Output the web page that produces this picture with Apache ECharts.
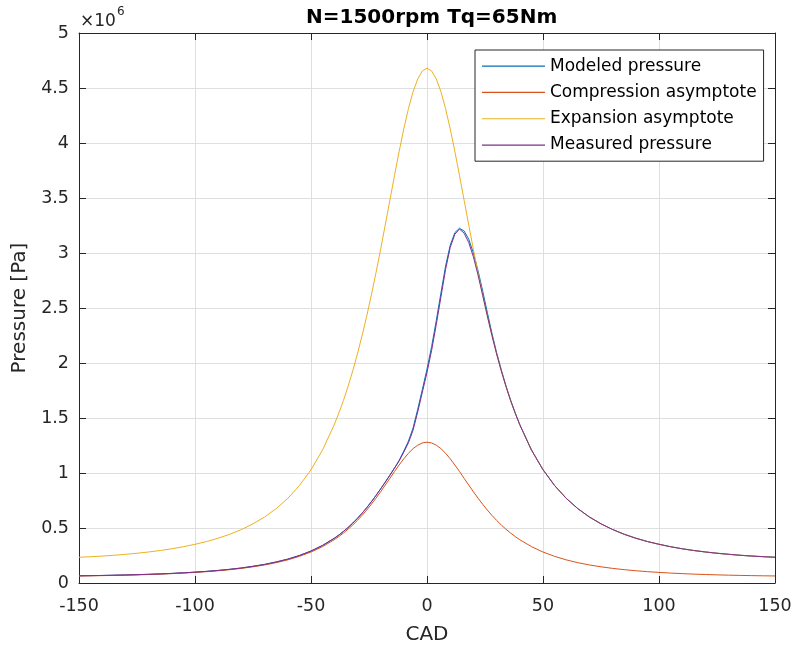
<!DOCTYPE html>
<html>
<head>
<meta charset="utf-8">
<title>N=1500rpm Tq=65Nm</title>
<script src="https://cdn.jsdelivr.net/npm/echarts@6/dist/echarts.min.js"></script>
<style>
  html, body { margin: 0; padding: 0; background: #fff; }
  #main { width: 796px; height: 651px; }
</style>
</head>
<body>
<div id="main"></div>
<script>
var myChart = echarts.init(document.getElementById('main'));

// crank angle (deg)
var cad = [-150, -145, -140, -135, -130, -125, -120, -115, -110, -105, -100, -95, -90, -85, -80, -75, -70, -65, -60, -55, -50, -45,
    -40, -38, -36, -34, -32, -30, -28, -26, -24, -22, -20, -18, -16, -14, -12, -10, -8, -6, -4, -2,
    0, 2, 4, 6, 8, 10, 12, 14, 16, 18, 20, 22, 24, 26, 28, 30, 32, 34, 36, 38, 40,
    45, 50, 55, 60, 65, 70, 75, 80, 85, 90, 95, 100, 105, 110, 115, 120, 125, 130, 135, 140, 145, 150];

// pressures in 1e6 Pa
var modeled = [0.0655, 0.0670, 0.0686, 0.0708, 0.0730, 0.0758, 0.0790, 0.0829, 0.0872, 0.0925, 0.0986, 0.1057, 0.1143, 0.1245, 0.1365, 0.1519, 0.1690, 0.1913, 0.2170, 0.2500, 0.2905, 0.3420,
    0.4060, 0.4360, 0.4690, 0.5050, 0.5445, 0.5875, 0.6340, 0.6840, 0.7380, 0.7950, 0.8550, 0.9170, 0.9800, 1.0450, 1.1150, 1.2000, 1.2900, 1.4100, 1.5800, 1.7600,
    1.9450, 2.1500, 2.3850, 2.6350, 2.8800, 3.0700, 3.1850, 3.2250, 3.2000, 3.1250, 3.0000, 2.8400, 2.6550, 2.4600, 2.2700, 2.0950, 1.9400, 1.7950, 1.6650, 1.5480, 1.4400,
    1.2100, 1.0300, 0.8860, 0.7700, 0.6760, 0.6000, 0.5378, 0.4860, 0.4431, 0.4070, 0.3769, 0.3520, 0.3298, 0.3110, 0.2954, 0.2820, 0.2705, 0.2610, 0.2520, 0.2450, 0.2391, 0.2340];

var compression = [0.0640, 0.0654, 0.0670, 0.0690, 0.0713, 0.0740, 0.0771, 0.0808, 0.0851, 0.0902, 0.0962, 0.1031, 0.1114, 0.1212, 0.1329, 0.1471, 0.1641, 0.1849, 0.2105, 0.2422, 0.2816, 0.3311,
    0.3933, 0.4225, 0.4545, 0.4895, 0.5277, 0.5694, 0.6145, 0.6631, 0.7158, 0.7710, 0.8294, 0.8902, 0.9518, 1.0135, 1.0733, 1.1295, 1.1796, 1.2217, 1.2534, 1.2733,
    1.2800, 1.2733, 1.2534, 1.2217, 1.1796, 1.1295, 1.0733, 1.0135, 0.9518, 0.8902, 0.8294, 0.7710, 0.7158, 0.6631, 0.6145, 0.5694, 0.5277, 0.4895, 0.4545, 0.4225, 0.3933,
    0.3311, 0.2816, 0.2422, 0.2105, 0.1849, 0.1641, 0.1471, 0.1329, 0.1212, 0.1114, 0.1031, 0.0962, 0.0902, 0.0851, 0.0808, 0.0771, 0.0740, 0.0713, 0.0690, 0.0670, 0.0654, 0.0640];

var expansion = [0.2340, 0.2391, 0.2449, 0.2520, 0.2607, 0.2705, 0.2819, 0.2954, 0.3111, 0.3298, 0.3517, 0.3769, 0.4073, 0.4431, 0.4859, 0.5378, 0.6000, 0.6760, 0.7696, 0.8855, 1.0295, 1.2105,
    1.4379, 1.5447, 1.6597, 1.7896, 1.9293, 2.0817, 2.2466, 2.4243, 2.6170, 2.8188, 3.0323, 3.2546, 3.4798, 3.7054, 3.9240, 4.1295, 4.3126, 4.4665, 4.5824, 4.6552,
    4.6800, 4.6552, 4.5824, 4.4665, 4.3126, 4.1295, 3.9240, 3.7054, 3.4798, 3.2546, 3.0323, 2.8188, 2.6170, 2.4243, 2.2466, 2.0817, 1.9293, 1.7896, 1.6597, 1.5447, 1.4379,
    1.2105, 1.0295, 0.8855, 0.7696, 0.6760, 0.6000, 0.5378, 0.4859, 0.4431, 0.4073, 0.3769, 0.3517, 0.3298, 0.3111, 0.2954, 0.2819, 0.2705, 0.2607, 0.2520, 0.2449, 0.2391, 0.2340];

var measured = [0.0655, 0.0670, 0.0686, 0.0708, 0.0730, 0.0758, 0.0790, 0.0829, 0.0872, 0.0925, 0.0986, 0.1057, 0.1143, 0.1245, 0.1365, 0.1519, 0.1690, 0.1913, 0.2170, 0.2500, 0.2905, 0.3420,
    0.4060, 0.4360, 0.4690, 0.5050, 0.5445, 0.5875, 0.6340, 0.6840, 0.7380, 0.7950, 0.8550, 0.9170, 0.9800, 1.0450, 1.1100, 1.1900, 1.2750, 1.3900, 1.5550, 1.7350,
    1.9150, 2.1150, 2.3500, 2.6000, 2.8500, 3.0500, 3.1700, 3.2180, 3.1800, 3.0950, 2.9650, 2.8000, 2.6150, 2.4300, 2.2500, 2.0830, 1.9300, 1.7900, 1.6600, 1.5450, 1.4380,
    1.2100, 1.0300, 0.8860, 0.7700, 0.6760, 0.6000, 0.5378, 0.4860, 0.4431, 0.4070, 0.3769, 0.3520, 0.3298, 0.3110, 0.2954, 0.2820, 0.2705, 0.2610, 0.2520, 0.2450, 0.2391, 0.2340];

var names = ['Modeled pressure', 'Compression asymptote', 'Expansion asymptote', 'Measured pressure'];
var color = ['#0072BD', '#D95319', '#EDB120', '#7E2F8E'];

var font = 'DejaVu Sans';
var axisColor = '#262626';

function pairs(ys) {
    return cad.map(function (x, i) { return [x, ys[i]]; });
}

var series = [modeled, compression, expansion, measured].map(function (ys, i) {
    return {
        name: names[i],
        type: 'line',
        data: pairs(ys),
        symbol: 'none',
        showSymbol: false,
        animation: false,
        lineStyle: { color: color[i], width: 1 },
        itemStyle: { color: color[i] },
        z: 2 + i
    };
});

var boxAxis = {
    axisLine: { show: true, onZero: false, lineStyle: { color: axisColor, width: 1 } },
    axisTick: { show: true, inside: true, length: 7, lineStyle: { color: axisColor } },
    axisLabel: { show: false },
    splitLine: { show: false }
};

option = {
    backgroundColor: '#fff',
    animation: false,
    color: color,
    title: {
        text: 'N=1500rpm Tq=65Nm',
        left: 301,
        top: 3,
        textStyle: { fontFamily: font, fontSize: 20, fontWeight: 'bold', color: '#000' }
    },
    legend: {
        orient: 'vertical',
        left: 475,
        top: 50,
        padding: [3, 7, 3, 7],
        itemGap: 0,
        itemWidth: 63,
        itemHeight: 1.2,
        icon: 'rect',
        backgroundColor: '#fff',
        borderColor: axisColor,
        borderWidth: 1,
        borderRadius: 0,
        data: names,
        textStyle: { fontFamily: font, fontSize: 17, color: '#000', lineHeight: 26.3 }
    },
    grid: { left: 79, right: 21, top: 33, bottom: 68, outerBoundsMode: 'none', containLabel: false },
    xAxis: [{
        type: 'value',
        min: -150,
        max: 150,
        interval: 50,
        name: 'CAD',
        nameLocation: 'middle',
        nameGap: 42,
        nameTextStyle: { fontFamily: font, fontSize: 20, color: axisColor },
        axisLine: { show: true, onZero: false, lineStyle: { color: axisColor, width: 1 } },
        axisTick: { show: true, inside: true, length: 7, lineStyle: { color: axisColor } },
        axisLabel: { fontFamily: font, fontSize: 17.5, color: axisColor, margin: 14 },
        splitLine: { show: true, lineStyle: { color: '#dfdfdf', width: 1 } }
    }, Object.assign({
        type: 'value', min: -150, max: 150, interval: 50, position: 'top'
    }, boxAxis)],
    yAxis: [{
        type: 'value',
        min: 0,
        max: 5,
        interval: 0.5,
        name: 'Pressure [Pa]',
        nameLocation: 'middle',
        nameGap: 47,
        nameTextStyle: { fontFamily: font, fontSize: 20, color: axisColor },
        axisLine: { show: true, onZero: false, lineStyle: { color: axisColor, width: 1 } },
        axisTick: { show: true, inside: true, length: 7, lineStyle: { color: axisColor } },
        axisLabel: { fontFamily: font, fontSize: 17.5, color: axisColor, margin: 10 },
        splitLine: { show: true, lineStyle: { color: '#dfdfdf', width: 1 } }
    }, Object.assign({
        type: 'value', min: 0, max: 5, interval: 0.5, position: 'right'
    }, boxAxis)],
    graphic: [
        { type: 'text', left: 80, top: 13, style: { text: '×10', fontFamily: font, fontSize: 17, fill: axisColor } },
        { type: 'text', left: 117, top: 6, style: { text: '6', fontFamily: font, fontSize: 12, fill: axisColor } }
    ],
    series: series
};

myChart.setOption(option);
</script>
</body>
</html>
